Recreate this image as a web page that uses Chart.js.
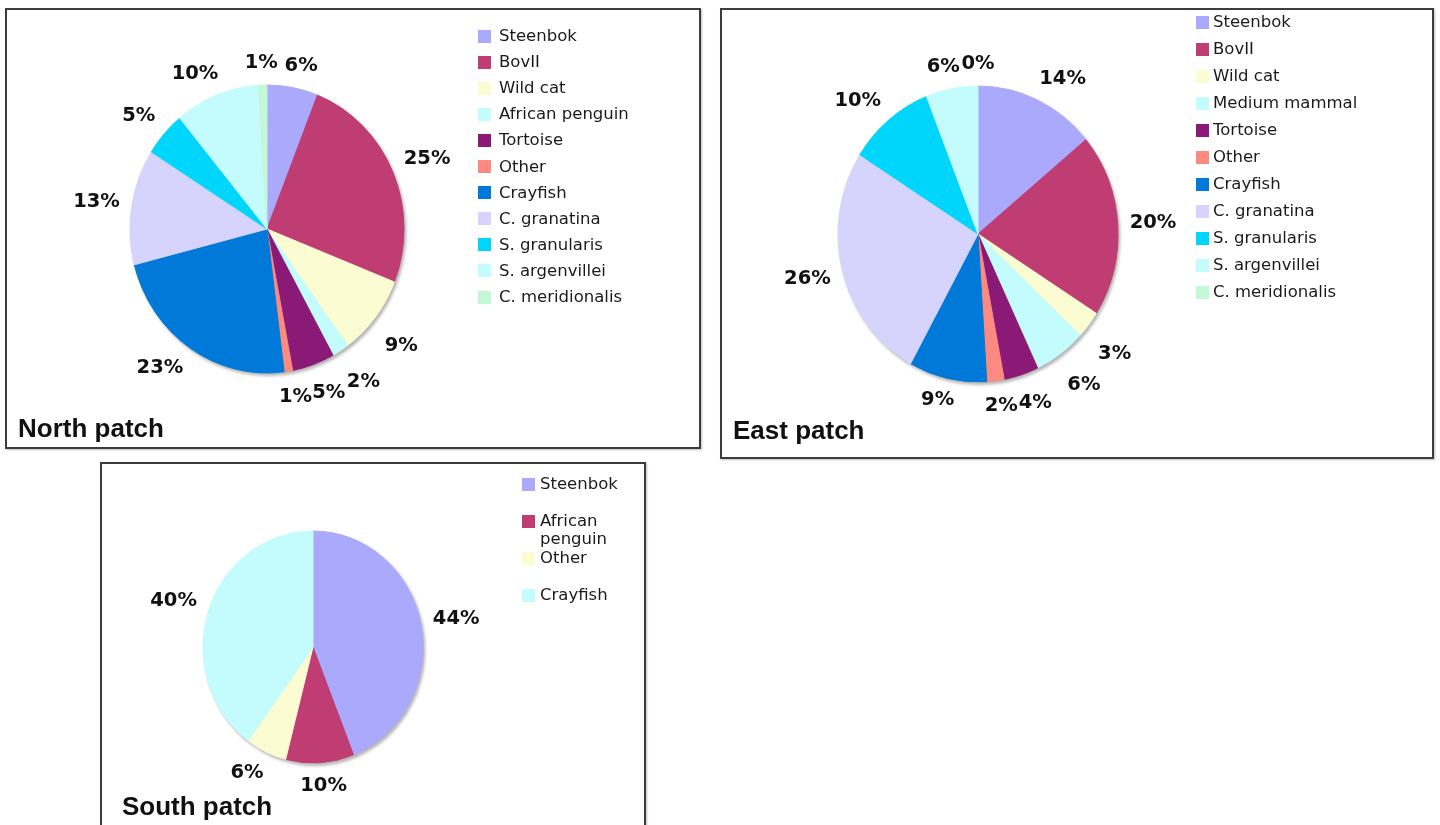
<!DOCTYPE html>
<html>
<head>
<meta charset="utf-8">
<script src="https://cdn.jsdelivr.net/npm/chart.js@4.4.0/dist/chart.umd.min.js"></script>
<style>
  body { margin: 0; width: 1440px; height: 825px; background: #fff; position: relative; overflow: hidden; font-family: "DejaVu Sans", Verdana, sans-serif; }
  .box { position: absolute; border: 2px solid #3c3c3c; box-sizing: border-box; background: #fff; box-shadow: 1px 1px 2px rgba(0,0,0,0.25); }
  .box canvas { position: absolute; left: 0; top: 0; }
  .title { position: absolute; font-family: "Liberation Sans", Arial, sans-serif; font-weight: bold; font-size: 26px; color: #111; line-height: 30px; }
  .lg-item { position: absolute; font-size: 16.5px; line-height: 18px; color: #1a1a1a; white-space: nowrap; }
  .lg-sw { position: absolute; width: 13px; height: 13px; }
</style>
</head>
<body>
<script>
// Diet composition per patch (% of prey items)
const northLabels = ['Steenbok', 'BovII', 'Wild cat', 'African penguin', 'Tortoise', 'Other', 'Crayfish', 'C. granatina', 'S. granularis', 'S. argenvillei', 'C. meridionalis'];
const northValues = [6, 25, 9, 2, 5, 1, 23, 13, 5, 10, 1];

const eastLabels = ['Steenbok', 'BovII', 'Wild cat', 'Medium mammal', 'Tortoise', 'Other', 'Crayfish', 'C. granatina', 'S. granularis', 'S. argenvillei', 'C. meridionalis'];
const eastValues = [14, 20, 3, 6, 4, 2, 9, 26, 10, 6, 0];

const southLabels = ['Steenbok', 'African penguin', 'Other', 'Crayfish'];
const southValues = [44, 10, 6, 40];

const elevenColors = ['#aba9fc', '#bf3d72', '#fcfcd2', '#c4fcfd', '#8a1a76', '#fc8a80', '#0079d9', '#d6d4fc', '#00d5fc', '#c4fcfd', '#c4f7d5'];
const southColors = ['#aba9fc', '#bf3d72', '#fcfcd2', '#c4fcfd'];

// labels outside the pie, pie drawn slightly taller than wide
const pieDecor = {
  id: 'pieDecor',
  beforeDatasetsDraw(chart, args, opts) {
    const a = chart.getDatasetMeta(0).data[0];
    const ctx = chart.ctx;
    ctx.save();
    ctx.translate(a.x, a.y);
    ctx.scale(opts.sx, 1);
    ctx.translate(-a.x, -a.y);
    // soft rim shadow
    ctx.save();
    ctx.filter = 'blur(1.5px)';
    ctx.fillStyle = 'rgba(90,90,90,0.45)';
    ctx.beginPath();
    ctx.arc(a.x + 2, a.y + 2.5, a.outerRadius + 0.5, 0, Math.PI * 2);
    ctx.fill();
    ctx.restore();
  },
  afterDatasetsDraw(chart, args, opts) {
    const ctx = chart.ctx;
    ctx.restore();
    const meta = chart.getDatasetMeta(0);
    const vals = chart.data.datasets[0].data;
    const total = vals.reduce((s, v) => s + v, 0);
    ctx.save();
    ctx.font = 'bold 19.5px "DejaVu Sans", Verdana, sans-serif';
    ctx.fillStyle = '#111';
    ctx.textAlign = 'center';
    ctx.textBaseline = 'middle';
    meta.data.forEach((a, i) => {
      const txt = Math.round(vals[i] / total * 100) + '%';
      const mid = (a.startAngle + a.endAngle) / 2;
      const c = Math.cos(mid), s = Math.sin(mid);
      const hw = ctx.measureText(txt).width / 2;
      // label box sits just off the rim, pushed away from it
      let lx = a.x + c * (a.outerRadius * opts.sx + opts.gap) + Math.sign(c) * hw * Math.min(1, 2 * Math.abs(c));
      let ly = a.y + s * (a.outerRadius + opts.gap) + Math.sign(s) * 10 * Math.min(1, 2 * Math.abs(s));
      if (c > 0 && s > 0) ly += 12 * Math.min(1, 2 * c * s);
      ctx.fillText(txt, lx, ly);
    });
    ctx.restore();
  }
};

const panels = [
  { title: 'North patch', labels: northLabels, values: northValues, colors: elevenColors,
    box: { x: 5, y: 8, w: 696, h: 441 }, pie: { cx: 267, cy: 229, rx: 137, ry: 144 }, gap: 12,
    legend: { sq: 478, tx: 499, y: 36, step: 26.1 }, titleAt: { x: 18, y: 413 } },
  { title: 'East patch', labels: eastLabels, values: eastValues, colors: elevenColors,
    box: { x: 720, y: 8, w: 714, h: 451 }, pie: { cx: 978, cy: 234, rx: 140, ry: 148 }, gap: 12,
    legend: { sq: 1196, tx: 1213, y: 22, step: 27 }, titleAt: { x: 733, y: 415 } },
  { title: 'South patch', labels: southLabels, values: southValues, colors: southColors,
    box: { x: 100, y: 462, w: 546, h: 420 }, pie: { cx: 313, cy: 647, rx: 110, ry: 116 }, gap: 12,
    legend: { sq: 522, tx: 540, y: 484, step: 37, wrap: 85 }, titleAt: { x: 122, y: 791 } }
];

panels.forEach(p => {
  const box = document.createElement('div');
  box.className = 'box';
  Object.assign(box.style, { left: p.box.x + 'px', top: p.box.y + 'px', width: p.box.w + 'px', height: p.box.h + 'px' });
  document.body.appendChild(box);

  const innerW = p.box.w - 4, innerH = p.box.h - 4;
  const canvas = document.createElement('canvas');
  canvas.width = innerW;
  canvas.height = innerH;
  box.appendChild(canvas);

  const side = 2 * p.pie.ry + 1;
  const padL = p.pie.cx - (p.box.x + 2) - side / 2;
  const padT = p.pie.cy - (p.box.y + 2) - side / 2;

  new Chart(canvas, {
    type: 'pie',
    data: {
      labels: p.labels,
      datasets: [{
        data: p.values,
        backgroundColor: p.colors,
        borderColor: p.colors,
        borderWidth: 1
      }]
    },
    options: {
      responsive: false,
      animation: false,
      events: [],
      layout: { padding: { left: padL, top: padT, right: innerW - padL - side, bottom: innerH - padT - side } },
      plugins: {
        legend: { display: false },
        tooltip: { enabled: false },
        pieDecor: { sx: p.pie.rx / p.pie.ry, gap: p.gap }
      }
    },
    plugins: [pieDecor]
  });

  // legend
  p.labels.forEach((lab, i) => {
    const cy = p.legend.y + i * p.legend.step;
    const sw = document.createElement('div');
    sw.className = 'lg-sw';
    Object.assign(sw.style, { left: p.legend.sq + 'px', top: (cy - 6.5) + 'px', background: p.colors[i] });
    document.body.appendChild(sw);
    const t = document.createElement('div');
    t.className = 'lg-item';
    t.textContent = lab;
    Object.assign(t.style, { left: p.legend.tx + 'px', top: (cy - 9) + 'px' });
    if (p.legend.wrap) { t.style.whiteSpace = 'normal'; t.style.width = p.legend.wrap + 'px'; }
    document.body.appendChild(t);
  });

  const title = document.createElement('div');
  title.className = 'title';
  title.textContent = p.title;
  Object.assign(title.style, { left: p.titleAt.x + 'px', top: p.titleAt.y + 'px' });
  document.body.appendChild(title);
});
</script>
</body>
</html>
